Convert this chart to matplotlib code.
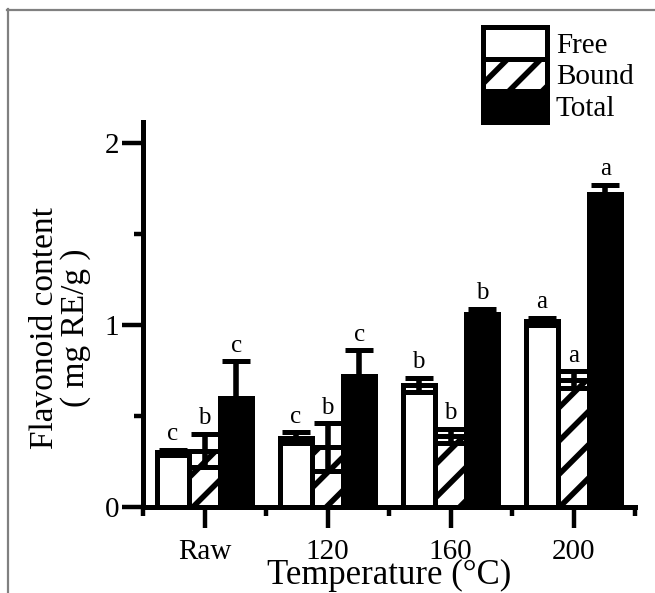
import matplotlib
matplotlib.use('Agg')
import matplotlib.pyplot as plt
from matplotlib.lines import Line2D
from matplotlib.ticker import FixedLocator
import numpy as np

# ---- data ----
categories = ['Raw', '120', '160', '200']
series = ['Free', 'Bound', 'Total']
free_vals = [0.30, 0.38, 0.67, 1.02]
free_err = [0.015, 0.03, 0.04, 0.02]
bound_vals = [0.31, 0.33, 0.39, 0.70]
bound_err = [0.09, 0.13, 0.04, 0.045]
total_vals = [0.60, 0.72, 1.06, 1.72]
total_err = [0.20, 0.14, 0.03, 0.05]
free_letters = ['c', 'c', 'b', 'a']
bound_letters = ['b', 'b', 'b', 'a']
total_letters = ['c', 'c', 'b', 'a']
y_ticks = [0, 1, 2]
y_minor = [0.5, 1.5]

plt.rcParams['font.family'] = ['Liberation Serif', 'DejaVu Serif']
plt.rcParams['hatch.linewidth'] = 2.0
plt.rcParams['hatch.color'] = 'black'

W, H = 655, 593
fig = plt.figure(figsize=(W / 200, H / 200), dpi=200)
ax = fig.add_axes([143 / W, 1 - 507 / H, 492 / W, 385 / H])

x = np.arange(len(categories))
w = 0.26
vals_all = [free_vals, bound_vals, total_vals]
errs_all = [free_err, bound_err, total_err]
letters_all = [free_letters, bound_letters, total_letters]
faces = ['white', 'white', 'black']
hatches = [None, '//', None]

for i in range(3):
    pos = x + (i - 1) * w
    ax.bar(pos, vals_all[i], w, facecolor=faces[i], edgecolor='black',
           linewidth=1.8, hatch=hatches[i], label=series[i], zorder=2)
    ax.errorbar(pos, vals_all[i], yerr=errs_all[i], fmt='none', ecolor='black',
                elinewidth=2.0, capsize=5, capthick=1.8, zorder=3)
    for p, v, e, l in zip(pos, vals_all[i], errs_all[i], letters_all[i]):
        ax.annotate(l, (p, v + e), xytext=(0, 3.5), textcoords='offset points',
                    ha='center', va='baseline', fontsize=9)

ax.set_xlim(-0.5, len(categories) - 0.5)
ax.set_ylim(0, 2.115)
ax.set_xticks(x)
ax.set_xticklabels(categories)
ax.xaxis.set_minor_locator(FixedLocator(np.arange(-0.5, len(categories), 1.0)))
ax.set_yticks(y_ticks)
ax.set_yticklabels([str(t) for t in y_ticks])
ax.yaxis.set_minor_locator(FixedLocator(y_minor))

for s in ['top', 'right']:
    ax.spines[s].set_visible(False)
for s in ['left', 'bottom']:
    ax.spines[s].set_linewidth(1.8)

ax.tick_params(axis='both', which='major', length=7.5, width=1.6, direction='out',
               labelsize=10.5)
ax.tick_params(axis='x', which='major', pad=4)
ax.tick_params(axis='y', which='major', pad=1)
ax.tick_params(axis='both', which='minor', length=3.4, width=1.6, direction='out')

fig.text(60 / W, 1 - 328 / H, 'Flavonoid content\n( mg RE/g )', rotation=90,
         ha='center', va='center', fontsize=12, multialignment='center',
         linespacing=1.0)
fig.text(389 / W, 1 - 575 / H, 'Temperature (°C)', ha='center', va='center',
         fontsize=12.5)

ax.legend(loc='upper left', bbox_to_anchor=(483 / W, 1 - 27 / H),
          bbox_transform=fig.transFigure, frameon=False, fontsize=10.5,
          handlelength=2.2, handleheight=1.3, labelspacing=0,
          handletextpad=0.3, borderpad=0, borderaxespad=0)

fig.add_artist(Line2D([7.5 / W, 7.5 / W], [0, 1 - 9 / H], transform=fig.transFigure,
                      color='#808080', lw=0.8))
fig.add_artist(Line2D([7 / W, 1], [1 - 9.5 / H, 1 - 9.5 / H], transform=fig.transFigure,
                      color='#808080', lw=0.8))

fig.savefig('out.png', dpi=200)
